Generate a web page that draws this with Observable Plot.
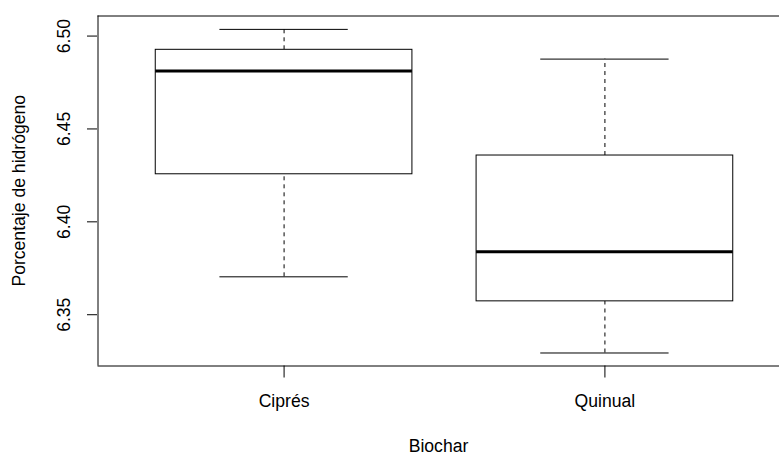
<!DOCTYPE html>
<html>
<head>
<meta charset="utf-8">
<script src="https://cdn.jsdelivr.net/npm/d3@7"></script>
<script src="https://cdn.jsdelivr.net/npm/@observablehq/plot@0.6"></script>
<style>
  html, body { margin: 0; padding: 0; background: #fff; }
  svg { display: block; }
</style>
</head>
<body>
<div id="chart"></div>
<script>
const categories = ["Ciprés", "Quinual"];
const positions = [1, 2];
const whiskerLow = [6.3704, 6.3294];
const q1 = [6.4256, 6.3572];
const median = [6.4812, 6.3839];
const q3 = [6.4926, 6.4357];
const whiskerHigh = [6.5036, 6.4876];
const yTicks = [6.35, 6.40, 6.45, 6.50];
const xLabel = "Biochar";
const yLabel = "Porcentaje de hidrógeno";

const boxes = categories.map((c, i) => ({
  cat: c, pos: positions[i],
  lo: whiskerLow[i], q1: q1[i], med: median[i], q3: q3[i], hi: whiskerHigh[i]
}));

const xDomain = [0.42, 2.58];
const yDomain = [6.3224, 6.5108];
const font = "Liberation Sans, Arial, sans-serif";
const fs = 17.6;

const chart = Plot.plot({
  width: 779,
  height: 455,
  marginLeft: 97,
  marginRight: 0,
  marginTop: 15,
  marginBottom: 89.5,
  style: { fontFamily: font, fontSize: fs + "px", background: "#fff", color: "#000" },
  x: { type: "linear", domain: xDomain, range: [97.5, 790.5], axis: null },
  y: { domain: yDomain, range: [365.5, 15.5], axis: null },
  marks: [
    Plot.ruleX(boxes, { x: "pos", y1: "q3", y2: "hi", stroke: "#000", strokeWidth: 1, strokeDasharray: "4,4" }),
    Plot.ruleX(boxes, { x: "pos", y1: "lo", y2: "q1", stroke: "#000", strokeWidth: 1, strokeDasharray: "4,4" }),
    Plot.ruleY(boxes, { y: "hi", x1: d => d.pos - 0.2, x2: d => d.pos + 0.2, stroke: "#000", strokeWidth: 1 }),
    Plot.ruleY(boxes, { y: "lo", x1: d => d.pos - 0.2, x2: d => d.pos + 0.2, stroke: "#000", strokeWidth: 1 }),
    Plot.rect(boxes, { x1: d => d.pos - 0.4, x2: d => d.pos + 0.4, y1: "q1", y2: "q3", fill: "#fff", stroke: "#000", strokeWidth: 1 }),
    Plot.ruleY(boxes, { y: "med", x1: d => d.pos - 0.4, x2: d => d.pos + 0.4, stroke: "#000", strokeWidth: 3 }),
    Plot.ruleY([yDomain[1], yDomain[0]], { y: d => d, x1: xDomain[0], x2: xDomain[1], stroke: "#000", strokeWidth: 1 }),
    Plot.ruleX([xDomain[0]], { x: d => d, y1: yDomain[0], y2: yDomain[1], stroke: "#000", strokeWidth: 1 }),
    Plot.axisY({ ticks: yTicks, tickSize: 10, tickFormat: () => "", stroke: "#000", label: null }),
    Plot.text(yTicks, { y: d => d, text: d => d3.format(".2f")(d), frameAnchor: "left", dx: -33, rotate: -90, textAnchor: "middle", lineAnchor: "middle", fill: "#000", fontSize: fs }),
    Plot.axisX({ ticks: positions, tickSize: 12, tickFormat: d => categories[d - 1], tickPadding: 16, stroke: "#000", fill: "#000", label: null, fontSize: fs }),
    Plot.text([xLabel], { text: d => d, frameAnchor: "bottom", dy: 80, lineAnchor: "middle", fill: "#000", fontSize: fs }),
    Plot.text([yLabel], { text: d => d, frameAnchor: "left", dx: -78, rotate: -90, textAnchor: "middle", lineAnchor: "middle", fill: "#000", fontSize: fs })
  ]
});
document.getElementById("chart").appendChild(chart);
</script>
</body>
</html>
